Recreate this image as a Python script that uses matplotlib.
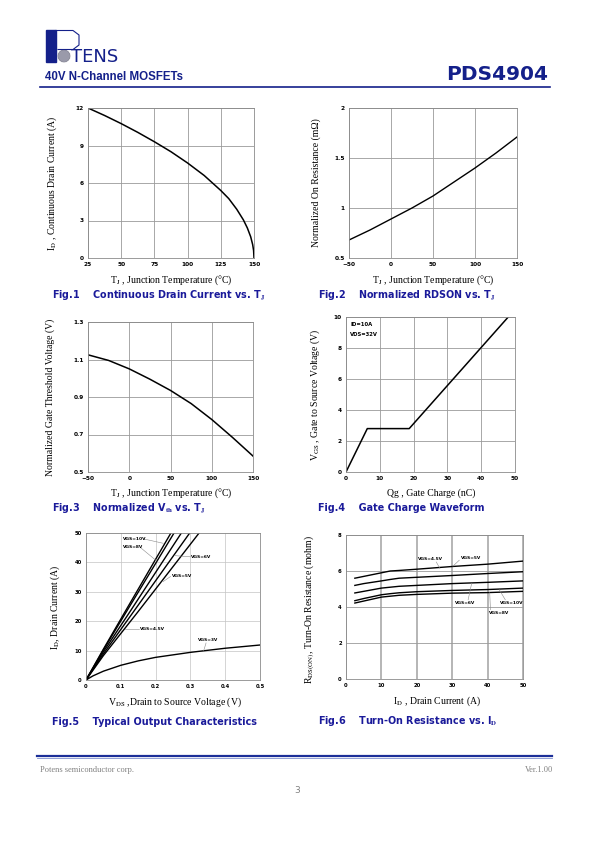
import numpy as np
import matplotlib
matplotlib.use("Agg")
import matplotlib.pyplot as plt
from matplotlib.patches import Rectangle, Circle

plt.rcParams['mathtext.fontset'] = 'stix'

W, H = 595, 842
NAVY = '#14208a'
CAP = '#1a1a9a'
SERIF = ['Liberation Serif', 'DejaVu Serif', 'DejaVu Sans']

# ---- data ----
# Fig.1 continuous drain current vs TJ
f1_tj = [25, 37.5, 50, 62.5, 75, 87.5, 100, 112.5, 125, 131, 137, 142, 145, 147.5, 149, 149.7, 150]
f1_id = [12, 11.4, 10.75, 10.05, 9.3, 8.5, 7.6, 6.6, 5.4, 4.75, 3.9, 3.05, 2.4, 1.7, 1.07, 0.6, 0]

# Fig.2 normalized RDSON vs TJ
f2_tj = [-50, -25, 0, 25, 50, 75, 100, 125, 150]
f2_r = [0.68, 0.78, 0.89, 1.0, 1.12, 1.26, 1.40, 1.55, 1.71]

# Fig.3 normalized Vth vs TJ
f3_tj = [-50, -25, 0, 25, 50, 75, 100, 125, 150]
f3_v = [1.125, 1.095, 1.05, 0.995, 0.935, 0.865, 0.78, 0.685, 0.585]

# Fig.4 gate charge waveform
f4_qg = [0, 6.3, 18.7, 48]
f4_vgs = [0, 2.8, 2.8, 10]

# Fig.5 output characteristics
f5_curves = {
    'VGS=10V': ([0, 0.05, 0.12, 0.244], [0, 10.5, 24.8, 50]),
    'VGS=8V': ([0, 0.05, 0.12, 0.253], [0, 10.2, 24.0, 50]),
    'VGS=6V': ([0, 0.05, 0.13, 0.274], [0, 9.6, 23.9, 50]),
    'VGS=5V': ([0, 0.05, 0.14, 0.298], [0, 8.9, 23.8, 50]),
    'VGS=4.5V': ([0, 0.05, 0.15, 0.325], [0, 8.3, 23.3, 50]),
    'VGS=3V': ([0, 0.02, 0.05, 0.1, 0.15, 0.2, 0.3, 0.4, 0.5],
               [0, 1.4, 3.0, 5.0, 6.5, 7.7, 9.4, 10.8, 11.9]),
}

# Fig.6 on-resistance vs ID
f6_id = [2.5, 5, 10, 12.5, 15, 20, 30, 40, 50]
f6_curves = {
    'VGS=4.5V': [5.6, 5.7, 5.9, 6.0, 6.03, 6.1, 6.25, 6.38, 6.55],
    'VGS=5V': [5.2, 5.3, 5.45, 5.53, 5.6, 5.65, 5.75, 5.86, 5.96],
    'VGS=6V': [4.78, 4.87, 5.05, 5.1, 5.15, 5.2, 5.3, 5.37, 5.45],
    'VGS=10V': [4.35, 4.47, 4.68, 4.74, 4.79, 4.85, 4.92, 4.97, 5.05],
    'VGS=8V': [4.22, 4.33, 4.55, 4.6, 4.65, 4.7, 4.77, 4.8, 4.87],
}

fig = plt.figure(figsize=(W / 100, H / 100), dpi=100)

# background axes in pixel coordinates for page decoration
bg = fig.add_axes([0, 0, 1, 1])
bg.set_xlim(0, W)
bg.set_ylim(H, 0)
bg.axis('off')


def px_axes(l, t, r, b):
    return fig.add_axes([l / W, 1 - b / H, (r - l) / W, (b - t) / H])


def ftext(x, y, s, **kw):
    bg.text(x, y, s, **kw)


def style(ax, xt, yt, xl, yl, xgrid_lw=0.6):
    ax.set_xlim(xl)
    ax.set_ylim(yl)
    ax.set_xticks(xt)
    ax.set_yticks(yt)
    ax.tick_params(length=0, labelsize=4.2, pad=3)
    for lab in ax.get_xticklabels() + ax.get_yticklabels():
        lab.set_fontweight('bold')
    ax.grid(True, axis='y', color='#9a9a9a', lw=0.6)
    ax.grid(True, axis='x', color='#9a9a9a', lw=xgrid_lw)
    ax.set_axisbelow(True)
    for s in ax.spines.values():
        s.set_color('#8a8a8a')
        s.set_linewidth(0.6)


TJ_LABEL = r'T$_\mathrm{J}$ , Junction Temperature (°C)'
CAP_KW = dict(fontsize=6.9, fontweight='bold', color=CAP, family='DejaVu Sans')

# ---- header ----
# logo
bg.add_patch(Rectangle((46, 30), 10, 32, color=NAVY))
bg.plot([56, 73, 79, 79, 73, 58], [30.5, 30.5, 35, 45, 49.5, 49.5], color=NAVY, lw=0.8)
bg.add_patch(Circle((64, 56), 6, facecolor='#b8b8c8', edgecolor='#707080', lw=0.4))
for d in [-4, -2, 0, 2, 4]:
    hw = np.sqrt(36 - d * d)
    bg.plot([64 + d, 64 + d], [56 - hw, 56 + hw], color='#6a6a7a', lw=0.3)
    bg.plot([64 - hw, 64 + hw], [56 + d, 56 + d], color='#6a6a7a', lw=0.3)
ftext(71, 62.5, 'TENS', fontsize=13, color=NAVY, family='DejaVu Sans', va='baseline')
ftext(45, 80, '40V N-Channel MOSFETs', fontsize=8.3, fontweight='bold', color=NAVY,
      family='Liberation Sans', va='baseline')
ftext(548, 80, 'PDS4904', fontsize=14.5, fontweight='bold', color=NAVY,
      family='DejaVu Sans', ha='right', va='baseline')
bg.plot([40, 550], [87, 87], color=NAVY, lw=1.2)

# ---- Fig.1 ----
ax1 = px_axes(88, 108, 254, 258)
ax1.plot(f1_tj, f1_id, color='black', lw=1.1)
style(ax1, [25, 50, 75, 100, 125, 150], [0, 3, 6, 9, 12], (25, 150), (0, 12))
ftext(171, 283, TJ_LABEL, fontsize=7, family=SERIF, ha='center')
ftext(52, 183, r'I$_\mathrm{D}$ , Continuous Drain Current (A)', fontsize=7, family=SERIF,
      rotation=90, ha='center', va='center')
ftext(52, 298, r'Fig.1    Continuous Drain Current vs. T$_\mathbf{J}$', **CAP_KW)

# ---- Fig.2 ----
ax2 = px_axes(349, 108, 517, 258)
ax2.plot(f2_tj, f2_r, color='black', lw=1.0)
style(ax2, [-50, 0, 50, 100, 150], [0.5, 1, 1.5, 2], (-50, 150), (0.5, 2))
ax2.set_yticklabels(['0.5', '1', '1.5', '2'], fontweight='bold')
ftext(433, 283, TJ_LABEL, fontsize=7, family=SERIF, ha='center')
ftext(316, 183, 'Normalized On Resistance (mΩ)', fontsize=7, family=SERIF,
      rotation=90, ha='center', va='center')
ftext(318, 298, r'Fig.2    Normalized RDSON vs. T$_\mathbf{J}$', **CAP_KW)

# ---- Fig.3 ----
ax3 = px_axes(88, 322, 253, 472)
ax3.plot(f3_tj, f3_v, color='black', lw=1.1)
style(ax3, [-50, 0, 50, 100, 150], [0.5, 0.7, 0.9, 1.1, 1.3], (-50, 150), (0.5, 1.3))
ftext(171, 496, TJ_LABEL, fontsize=7, family=SERIF, ha='center')
ftext(50, 397, 'Normalized Gate Threshold Voltage (V)', fontsize=7, family=SERIF,
      rotation=90, ha='center', va='center')
ftext(52, 511, r'Fig.3    Normalized V$_\mathbf{th}$ vs. T$_\mathbf{J}$', **CAP_KW)

# ---- Fig.4 ----
ax4 = px_axes(346, 317, 515, 472)
ax4.plot(f4_qg, f4_vgs, color='black', lw=1.1)
style(ax4, [0, 10, 20, 30, 40, 50], [0, 2, 4, 6, 8, 10], (0, 50), (0, 10))
ax4.text(1.3, 9.5, 'ID=10A', fontsize=3.8, fontweight='bold', va='center')
ax4.text(1.3, 8.9, 'VDS=32V', fontsize=3.8, fontweight='bold', va='center')
ftext(431, 496, 'Qg , Gate Charge (nC)', fontsize=7, family=SERIF, ha='center')
ftext(315, 395, r'V$_\mathrm{GS}$ , Gate to Source Voltage (V)', fontsize=7, family=SERIF,
      rotation=90, ha='center', va='center')
ftext(318, 511, 'Fig.4    Gate Charge Waveform', **CAP_KW)

# ---- Fig.5 ----
ax5 = px_axes(86, 533, 260, 680)
for name, (vx, vy) in f5_curves.items():
    ax5.plot(vx, vy, color='black', lw=1.0)
style(ax5, [0, 0.1, 0.2, 0.3, 0.4, 0.5], [0, 10, 20, 30, 40, 50], (0, 0.5), (0, 50))
ax5.set_xticklabels(['0', '0.1', '0.2', '0.3', '0.4', '0.5'], fontweight='bold')
for lab in ax5.get_xticklabels() + ax5.get_yticklabels():
    lab.set_fontsize(3.8)
ax5.grid(True, color='#c4c4c4', lw=0.5)
f5_labels = [
    ('VGS=10V', (0.105, 48.0), (0.165, 48.0), (0.222, 46.5)),
    ('VGS=8V', (0.105, 45.2), (0.157, 45.0), (0.203, 40.5)),
    ('VGS=6V', (0.303, 41.7), (0.300, 41.9), (0.255, 42.3)),
    ('VGS=5V', (0.246, 35.4), (0.243, 35.2), (0.222, 33.5)),
    ('VGS=4.5V', (0.155, 17.4), (0.152, 17.4), (0.113, 17.4)),
    ('VGS=3V', (0.322, 13.5), (0.345, 12.6), (0.338, 9.9)),
]
for name, tpos, p0, p1 in f5_labels:
    ax5.text(tpos[0], tpos[1], name, fontsize=3.2, fontweight='bold', va='center')
    ax5.plot([p0[0], p1[0]], [p0[1], p1[1]], color='#8a8a8a', lw=0.4)
ftext(175, 705, r'V$_\mathrm{DS}$ ,Drain to Source Voltage (V)', fontsize=7, family=SERIF, ha='center')
ftext(55, 607, r'I$_\mathrm{D}$, Drain Current (A)', fontsize=7, family=SERIF,
      rotation=90, ha='center', va='center')
ftext(52, 725, 'Fig.5    Typical Output Characteristics', **CAP_KW)

# ---- Fig.6 ----
ax6 = px_axes(346, 535, 523, 679)
for name, vals in f6_curves.items():
    ax6.plot(f6_id, vals, color='black', lw=1.0)
style(ax6, [0, 10, 20, 30, 40, 50], [0, 2, 4, 6, 8], (0, 50), (0, 8), xgrid_lw=1.3)
for gl in ax6.get_xgridlines():
    gl.set_color('#b0b0b0')
for lab in ax6.get_xticklabels() + ax6.get_yticklabels():
    lab.set_fontsize(3.8)
f6_labels = [
    ('VGS=4.5V', (20.3, 6.67), (25.5, 6.5), (26.5, 6.15)),
    ('VGS=5V', (32.6, 6.70), (32.0, 6.6), (30.2, 6.27)),
    ('VGS=6V', (30.8, 4.22), (34.5, 4.4), (35.5, 5.32)),
    ('VGS=10V', (43.4, 4.22), (45.0, 4.4), (43.3, 4.96)),
    ('VGS=8V', (40.4, 3.68), (40.8, 3.85), (40.6, 4.8)),
]
for name, tpos, p0, p1 in f6_labels:
    ax6.text(tpos[0], tpos[1], name, fontsize=3.2, fontweight='bold', va='center')
    ax6.plot([p0[0], p1[0]], [p0[1], p1[1]], color='#8a8a8a', lw=0.4)
ftext(437, 704, r'I$_\mathrm{D}$ , Drain Current (A)', fontsize=7, family=SERIF, ha='center')
ftext(310, 610, r'R$_\mathrm{DS(ON)}$, Turn-On Resistance (mohm)', fontsize=7, family=SERIF,
      rotation=90, ha='center', va='center')
ftext(318, 724, r'Fig.6    Turn-On Resistance vs. I$_\mathbf{D}$', **CAP_KW)

# ---- footer ----
bg.plot([37, 552], [755.5, 755.5], color='#1c2f98', lw=1.6)
bg.plot([37, 552], [757.5, 757.5], color='#8090d0', lw=0.6)
ftext(40, 772, 'Potens semiconductor corp.', fontsize=6, color='#808080', family=SERIF)
ftext(553, 772, 'Ver.1.00', fontsize=6, color='#808080', family=SERIF, ha='right')
ftext(297, 793, '3', fontsize=6.5, color='#808080', family='DejaVu Sans', ha='center')

fig.savefig('out.png', dpi=100)
